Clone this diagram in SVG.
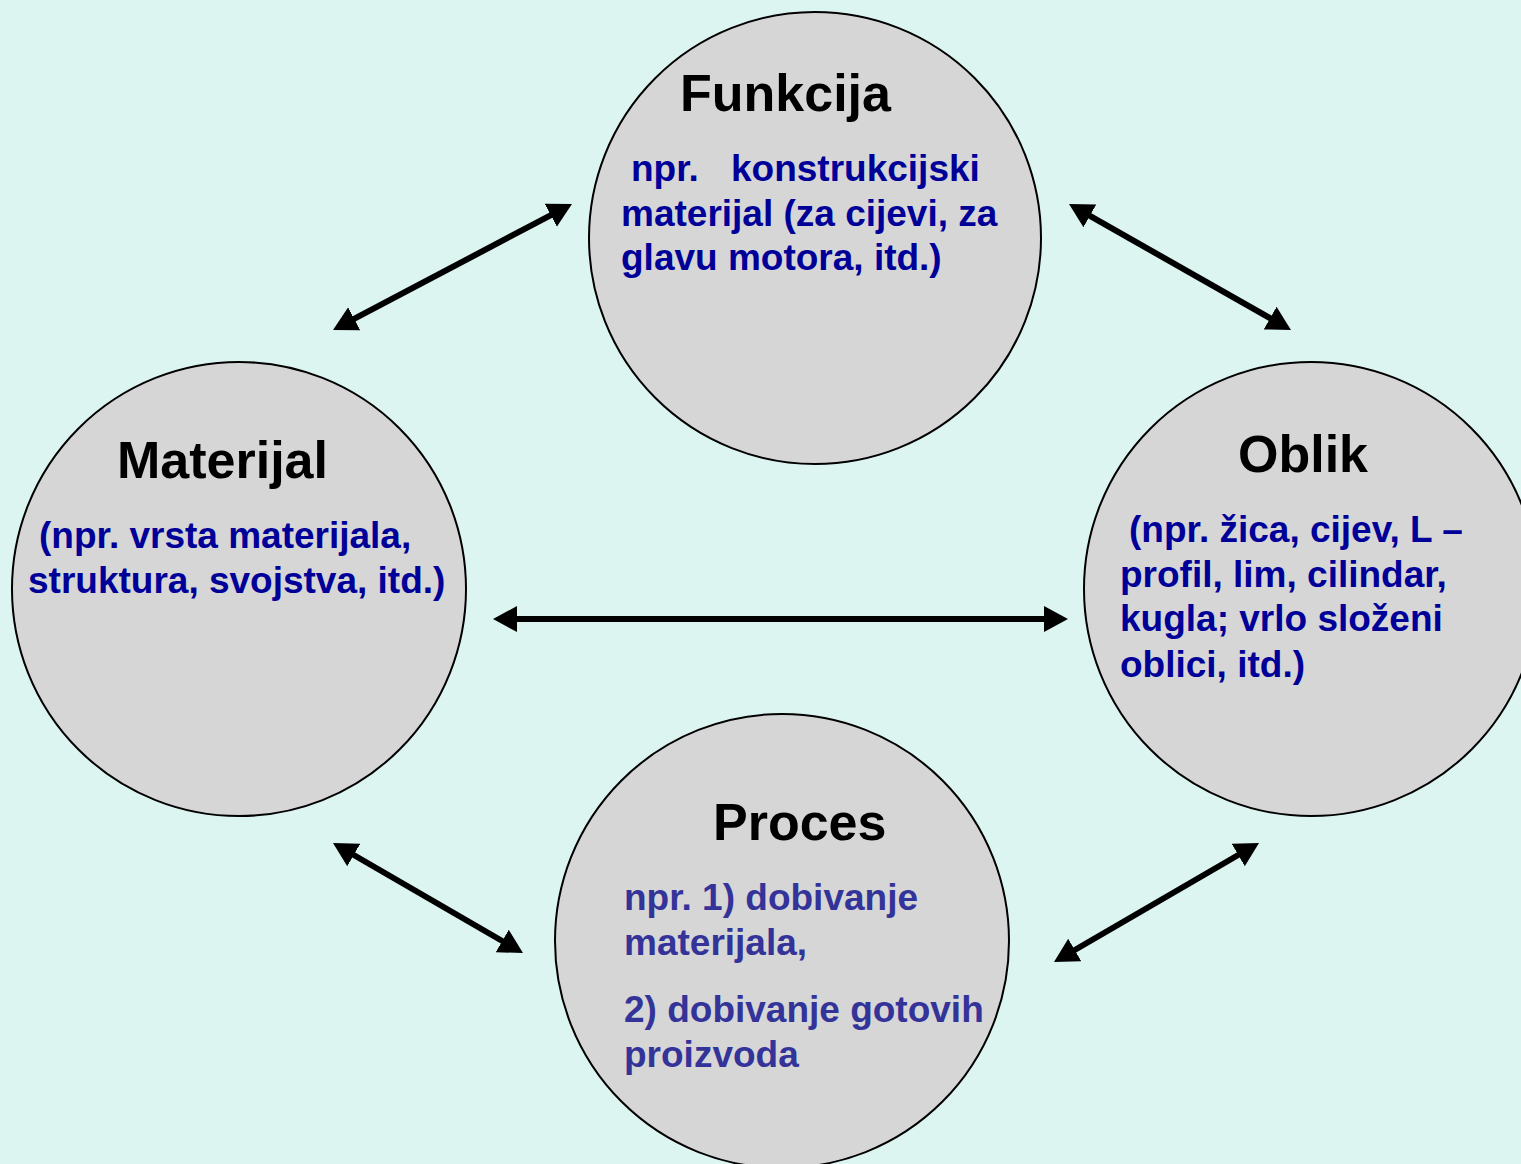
<svg xmlns="http://www.w3.org/2000/svg" width="1521" height="1164" viewBox="0 0 1521 1164">
<style>
.node circle{fill:#d6d6d6;stroke:#000;stroke-width:2}
.title{font-family:"Liberation Sans",Arial,sans-serif;font-weight:bold;font-size:52px;fill:#000}
.body{font-family:"Liberation Sans",Arial,sans-serif;font-weight:bold;font-size:37px;fill:#000099}
.body2{font-family:"Liberation Sans",Arial,sans-serif;font-weight:bold;font-size:37px;fill:#333399}
.conn line{stroke:#000;stroke-width:6;marker-start:url(#ah);marker-end:url(#ah)}
</style>
<defs>
<marker id="ah" markerUnits="userSpaceOnUse" markerWidth="26" markerHeight="28" refX="4" refY="13" orient="auto-start-reverse" viewBox="0 0 26 26">
<path d="M0,0 L24,13 L0,26 z" fill="#000"/>
</marker>
</defs>
<rect width="1521" height="1164" fill="#ddf5f1"/>
<g id="funkcija" class="node">
<circle cx="815" cy="238" r="226"/>
<text class="title" x="680" y="111">Funkcija</text>
<text class="body"><tspan x="631" y="181">npr.</tspan><tspan x="731" y="181">konstrukcijski</tspan><tspan x="621" y="226">materijal (za cijevi, za</tspan><tspan x="621" y="270">glavu motora, itd.)</tspan></text>
</g>
<g id="materijal" class="node">
<circle cx="239" cy="589" r="227"/>
<text class="title" x="117" y="478">Materijal</text>
<text class="body"><tspan x="39" y="548">(npr. vrsta materijala,</tspan><tspan x="28" y="593">struktura, svojstva, itd.)</tspan></text>
</g>
<g id="oblik" class="node">
<circle cx="1311" cy="589" r="227"/>
<text class="title" x="1238" y="472">Oblik</text>
<text class="body"><tspan x="1129" y="542">(npr. žica, cijev, L –</tspan><tspan x="1120" y="587">profil, lim, cilindar,</tspan><tspan x="1120" y="631">kugla; vrlo složeni</tspan><tspan x="1120" y="677">oblici, itd.)</tspan></text>
</g>
<g id="proces" class="node">
<circle cx="782" cy="941" r="227"/>
<text class="title" x="713" y="840">Proces</text>
<text class="body2"><tspan x="624" y="910">npr. 1) dobivanje</tspan><tspan x="624" y="955">materijala,</tspan><tspan x="624" y="1022">2) dobivanje gotovih</tspan><tspan x="624" y="1067">proizvoda</tspan></text>
</g>
<g id="connectors" class="conn">
<line x1="350.7" y1="320.7" x2="554.3" y2="213.3"/>
<line x1="1086.4" y1="213.9" x2="1273.6" y2="320.1"/>
<line x1="513" y1="619" x2="1048" y2="619"/>
<line x1="350.3" y1="853" x2="505.7" y2="943"/>
<line x1="1071.3" y1="952" x2="1241.7" y2="853"/>
</g>
</svg>
